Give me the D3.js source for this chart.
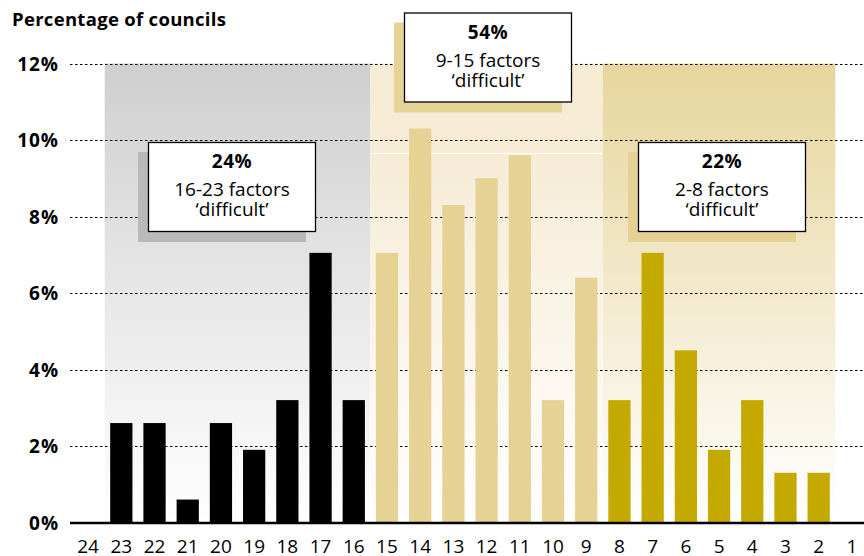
<!DOCTYPE html>
<html>
<head>
<meta charset="utf-8">
<script src="https://cdn.jsdelivr.net/npm/d3@7"></script>
<style>
  body { margin: 0; background: #fff; }
  text { font-family: "Open Sans", "Noto Sans", sans-serif; fill: #000; }
</style>
</head>
<body>
<script>
// number of factors rated 'difficult' and share of councils (%)
var factors = ["24","23","22","21","20","19","18","17","16","15","14","13","12","11","10","9","8","7","6","5","4","3","2","1"]
var pct = [0, 2.6, 2.6, 0.6, 2.6, 1.9, 3.2, 7.05, 3.2, 7.05, 10.3, 8.3, 9.0, 9.6, 3.2, 6.4, 3.2, 7.05, 4.5, 1.9, 3.2, 1.3, 1.3, 0]
var yTicks = [0, 2, 4, 6, 8, 10, 12]

// the three groups
var groupFrom = ["23", "15", "8"]
var groupTo = ["16", "9", "2"]
var groupShare = ["24%", "54%", "22%"]
var groupText = ["16-23 factors", "9-15 factors", "2-8 factors"]

var W = 864, H = 556

var svg = d3.select("body").append("svg")
    .attr("width", W)
    .attr("height", H)

var x = d3.scaleBand()
    .domain(factors)
    .range([71.5, 868.5])
    .paddingInner(0.33)
    .paddingOuter(0.165)

var y = d3.scaleLinear()
    .domain([0, 12])
    .range([522.5, 63.5])

var gap = (x.step() - x.bandwidth()) / 2

// colours per group
var barColor = ["#000000", "#e5d294", "#c4aa00"]
var topColor = ["#cfcfcf", "#f6ecd6", "#e7d59c"]
var shadowColor = ["#b9b9b9", "#e6d396", "#e5d293"]

function groupOf(f) {
  var n = +f
  if (n >= 16) return 0
  if (n >= 9) return 1
  return 2
}

// gradients
var defs = svg.append("defs")
topColor.forEach(function (c, i) {
  var g = defs.append("linearGradient")
      .attr("id", "grad" + i)
      .attr("x1", 0).attr("y1", 0).attr("x2", 0).attr("y2", 1)
  g.append("stop").attr("offset", "0%").attr("stop-color", c)
  g.append("stop").attr("offset", i == 1 ? "20%" : "0%").attr("stop-color", c)
  g.append("stop").attr("offset", "100%").attr("stop-color", "#ffffff")
})

// background panels
var panels = svg.append("g")
panels.selectAll("rect")
    .data(groupFrom)
    .enter()
    .append("rect")
    .attr("x", (d, i) => x(d) - gap)
    .attr("width", (d, i) => x(groupTo[i]) + x.bandwidth() + gap - (x(d) - gap))
    .attr("y", y(12))
    .attr("height", y(0) - y(12))
    .attr("fill", (d, i) => "url(#grad" + i + ")")

// thin white seam in the middle panel
svg.append("line")
    .attr("x1", x("15") - gap)
    .attr("x2", x("9") + x.bandwidth() + gap)
    .attr("y1", 153.5).attr("y2", 153.5)
    .style("stroke", "#fff")
    .style("stroke-width", 1)

// grid
svg.append("g")
    .selectAll("line")
    .data(yTicks.filter(d => d > 0))
    .enter()
    .append("line")
    .attr("x1", 70).attr("x2", W)
    .attr("y1", d => Math.round(y(d)) + 0.5)
    .attr("y2", d => Math.round(y(d)) + 0.5)
    .style("stroke", "#000")
    .style("stroke-width", 1.2)
    .style("stroke-dasharray", "2.5,2.5")

// y labels
svg.append("g")
    .selectAll("text")
    .data(yTicks)
    .enter()
    .append("text")
    .attr("x", 59)
    .attr("y", d => y(d) + 7)
    .attr("text-anchor", "end")
    .style("font-size", "19px")
    .style("font-weight", "bold")
    .style("letter-spacing", "1px")
    .text(d => d + "%")

// bars
svg.append("g")
    .selectAll("rect")
    .data(pct)
    .enter()
    .append("rect")
    .attr("x", (d, i) => x(factors[i]))
    .attr("width", x.bandwidth())
    .attr("y", d => y(d))
    .attr("height", d => y(0) - y(d))
    .attr("fill", (d, i) => barColor[groupOf(factors[i])])

// baseline
svg.append("line")
    .attr("x1", 70).attr("x2", W)
    .attr("y1", y(0) + 0.5).attr("y2", y(0) + 0.5)
    .style("stroke", "#000")
    .style("stroke-width", 2.5)

// x labels
svg.append("g")
    .selectAll("text")
    .data(factors)
    .enter()
    .append("text")
    .attr("x", d => x(d) + x.bandwidth() / 2)
    .attr("y", 553)
    .attr("text-anchor", "middle")
    .style("font-size", "19px")
    .text(d => d)

// title
svg.append("text")
    .attr("x", 12)
    .attr("y", 26)
    .style("font-size", "18.5px")
    .style("font-weight", "bold")
    .style("letter-spacing", "0.3px")
    .text("Percentage of councils")

// annotation boxes
var boxX = [148, 404, 638]
var boxY = [142, 12.5, 142]
var boxW = 168, boxH = 90

groupShare.forEach(function (s, i) {
  var g = svg.append("g").attr("transform", "translate(" + boxX[i] + "," + boxY[i] + ")")
  g.append("rect")
      .attr("x", -10).attr("y", 10)
      .attr("width", boxW).attr("height", boxH)
      .attr("fill", shadowColor[i])
  g.append("rect")
      .attr("x", 0.5).attr("y", 0.5)
      .attr("width", boxW - 1).attr("height", boxH - 1)
      .attr("fill", "#fff")
      .style("stroke", "#000")
      .style("stroke-width", 1.3)
  g.append("text")
      .attr("x", boxW / 2).attr("y", 26)
      .attr("text-anchor", "middle")
      .style("font-size", "19px")
      .style("font-weight", "bold")
      .style("letter-spacing", "0.5px")
      .text(s)
  g.append("text")
      .attr("x", boxW / 2).attr("y", 54)
      .attr("text-anchor", "middle")
      .style("font-size", "19px")
      .text(groupText[i])
  g.append("text")
      .attr("x", boxW / 2).attr("y", 74)
      .attr("text-anchor", "middle")
      .style("font-size", "19px")
      .text("\u2018difficult\u2019")
})
</script>
</body>
</html>
